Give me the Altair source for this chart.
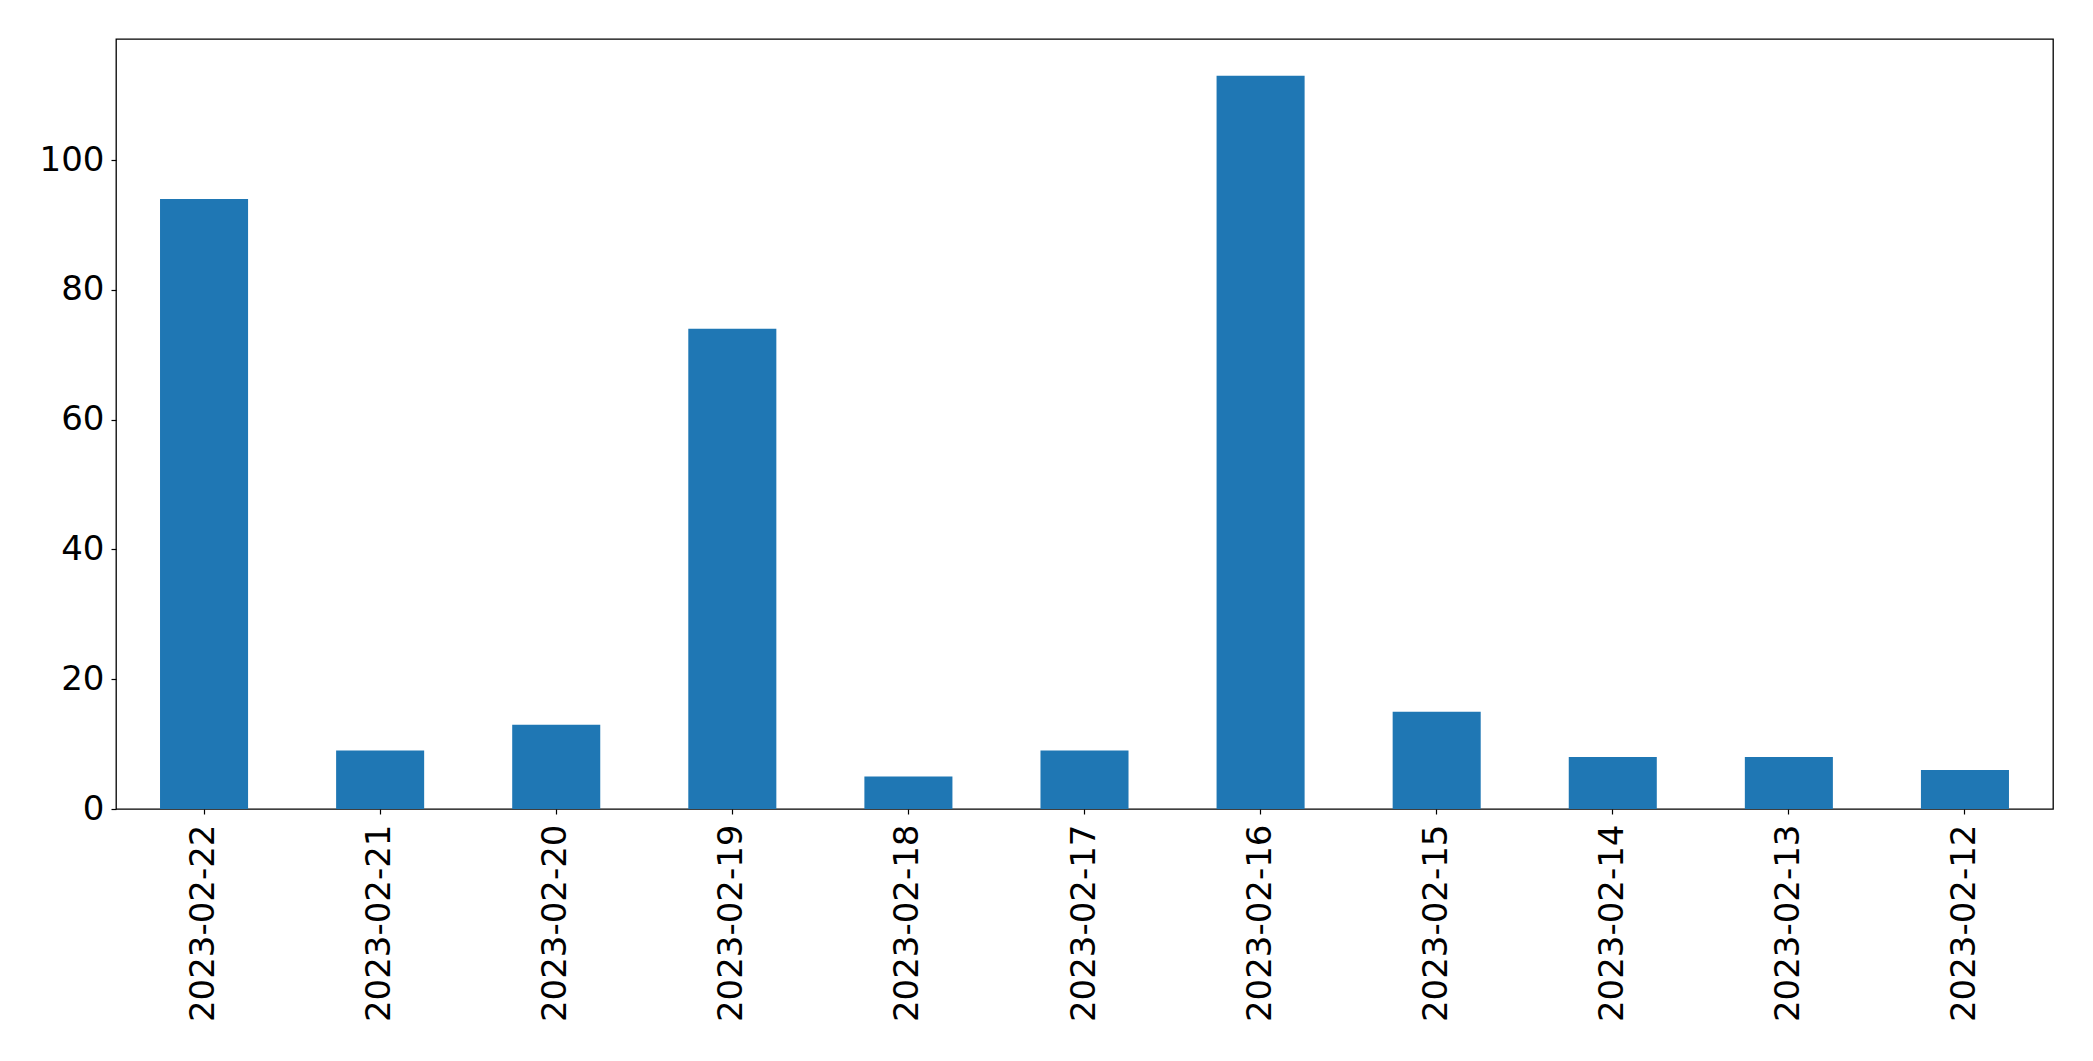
import altair as alt
import pandas as pd

dates = ["2023-02-22", "2023-02-21", "2023-02-20", "2023-02-19", "2023-02-18",
         "2023-02-17", "2023-02-16", "2023-02-15", "2023-02-14", "2023-02-13", "2023-02-12"]
counts = [94, 9, 13, 74, 5, 9, 113, 15, 8, 8, 6]
y_ticks = [0, 20, 40, 60, 80, 100]

df = pd.DataFrame({"date": dates, "count": counts})

font = "DejaVu Sans"

chart = alt.Chart(df).mark_bar(color="#1f77b4").encode(
    x=alt.X("date:N", sort=dates,
            scale=alt.Scale(paddingInner=0.5, paddingOuter=0.25),
            axis=alt.Axis(title=None, labelAngle=270, labelAlign="right", labelBaseline="middle",
                          labelFont=font, labelFontSize=34, labelColor="black", labelLimit=1000,
                          labelPadding=10, tickSize=5, tickColor="black", tickWidth=1.2,
                          domain=False, grid=False)),
    y=alt.Y("count:Q",
            scale=alt.Scale(domain=[0, 118.65], nice=False, zero=True),
            axis=alt.Axis(title=None, values=y_ticks, labelFont=font, labelFontSize=34,
                          labelColor="black", labelPadding=7, tickSize=5, tickColor="black",
                          tickWidth=1.2, domain=False, grid=False)),
).properties(
    width=1937, height=770,
    autosize=alt.AutoSizeParams(type="none"),
    padding={"left": 108, "top": 31, "right": 30, "bottom": 230},
).configure_view(
    stroke="black", strokeWidth=1.3
)

chart.save("out.html", embed_options={"renderer": "svg", "actions": False})
